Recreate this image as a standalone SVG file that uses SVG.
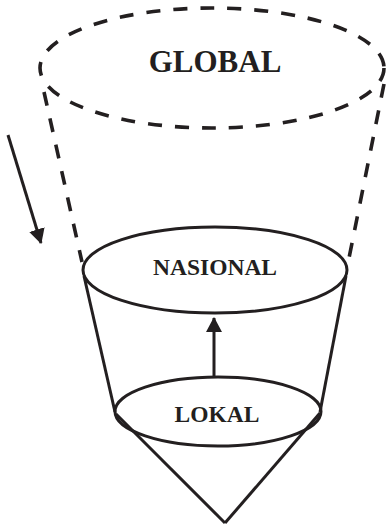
<svg xmlns="http://www.w3.org/2000/svg" width="387" height="526" viewBox="0 0 387 526">
<style>
.solid{fill:none;stroke:#231f20;stroke-width:3}
.dash{fill:none;stroke:#231f20;stroke-width:3.6;stroke-dasharray:14 13}
.lbl{font-family:"Liberation Serif","Times New Roman",serif;font-weight:bold;fill:#231f20;text-anchor:middle}
</style>
<defs>
<marker id="ah" markerWidth="16" markerHeight="16" refX="14" refY="8" orient="auto" markerUnits="userSpaceOnUse">
<path d="M0,0 L15,8 L0,16 Z" fill="#231f20"/>
</marker>
</defs>
<rect width="387" height="526" fill="#fff"/>
<g id="global">
<ellipse class="dash" cx="212" cy="68" rx="172" ry="60" stroke-dasharray="15 13"/>
<text class="lbl" x="215" y="72" font-size="31">GLOBAL</text>
</g>
<g id="nasional">
<ellipse class="solid" cx="215" cy="270" rx="132" ry="43"/>
<text class="lbl" x="215" y="275" font-size="23.5">NASIONAL</text>
</g>
<g id="lokal">
<ellipse class="solid" cx="218" cy="411.5" rx="103" ry="34.5"/>
<text class="lbl" x="217" y="422" font-size="23.5">LOKAL</text>
</g>
<g id="connectors">
<line class="dash" x1="44" y1="92" x2="82" y2="262"/>
<line class="dash" x1="384" y1="84" x2="347" y2="268"/>
<line class="solid" x1="84" y1="276" x2="115" y2="412"/>
<line class="solid" x1="346" y1="276" x2="320" y2="412"/>
<line class="solid" x1="116" y1="414" x2="225" y2="523"/>
<line class="solid" x1="320" y1="413" x2="225" y2="523"/>
<line class="solid" x1="214" y1="376" x2="214" y2="318" marker-end="url(#ah)"/>
<line class="solid" x1="8" y1="135" x2="41" y2="243" marker-end="url(#ah)"/>
</g>
</svg>
